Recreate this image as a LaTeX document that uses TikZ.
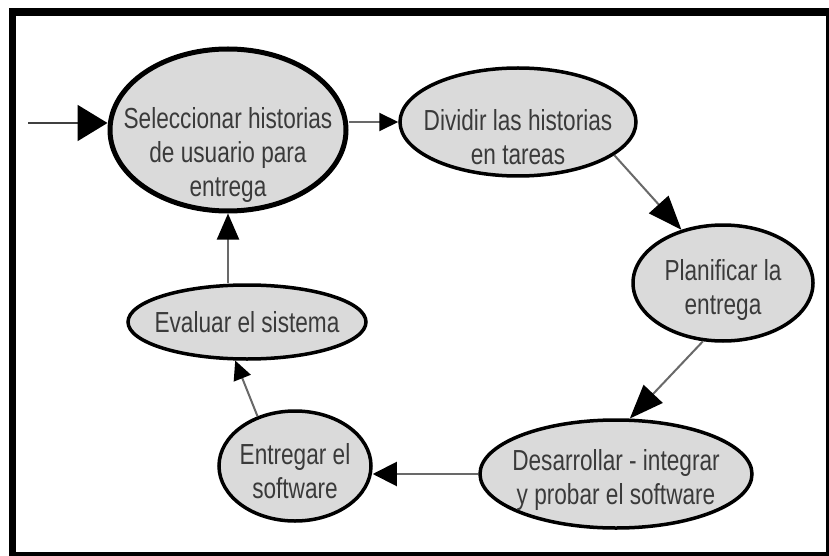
\documentclass[tikz,border=0pt]{standalone}
\usepackage{fontspec}
\setmainfont{Liberation Sans}[FakeStretch=0.78]
\usetikzlibrary{arrows.meta,shapes.geometric}
\definecolor{stagefill}{RGB}{218,218,218}
\definecolor{stagetext}{RGB}{58,58,58}
\definecolor{linkgray}{RGB}{105,105,105}

\begin{document}
\begin{tikzpicture}[x=1pt,y=-1pt,
  stage/.style={ellipse, draw=black, fill=stagefill, line width=3.5pt, inner sep=0pt},
  stagetxt/.style={align=center, text=stagetext, inner sep=0pt,
    font=\fontsize{29}{34}\selectfont},
  link/.style={draw=linkgray, line width=2pt},
  tipbig/.style={-{Triangle[length=34pt,width=26pt,color=black]}},
  tipmid/.style={-{Triangle[length=24pt,width=24pt,color=black]}},
  tipsmall/.style={-{Triangle[length=19pt,width=18pt,color=black]}},
]
\useasboundingbox (0,0) rectangle (829,556);

% outer frame
\fill[black] (9,8) rectangle (829,556);
\fill[white] (16,16) rectangle (826,552);

% stages of the release cycle
\node[stage, line width=5pt, minimum width=236pt, minimum height=162pt] (sel) at (228,130) {};
\node[stagetxt] (seltxt) at (228,155) {Seleccionar historias\\de usuario para\\entrega};

\node[stage, minimum width=236pt, minimum height=108pt] (div) at (518,122) {};
\node[stagetxt] (divtxt) at (518,137) {Dividir las historias\\en tareas};

\node[stage, minimum width=180pt, minimum height=116pt] (plan) at (723,283) {};
\node[stagetxt] (plantxt) at (723,290) {Planificar la\\entrega};

\node[stage, minimum width=272pt, minimum height=108pt] (des) at (616,474) {};
\node[stagetxt] (destxt) at (616,480) {Desarrollar - integrar\\y probar el software};

\node[stage, minimum width=152pt, minimum height=110pt] (ent) at (295,466) {};
\node[stagetxt] (enttxt) at (295,471) {Entregar el\\software};

\node[stage, minimum width=238pt, minimum height=74pt] (eva) at (247,322) {};
\node[stagetxt] (evatxt) at (247,322) {Evaluar el sistema};

% connectors
\coordinate (start) at (28,123);
\draw[link, draw=black!75, -{Triangle[length=30pt,width=36pt,color=black]}] (start) -- (start -| sel.west);
\draw[link, tipsmall] (sel.east |- div) -- (div.west);
\draw[link, tipbig] (div.-19) -- (plan.128);
\draw[link, tipbig] (plan.251) -- (des.76);
\draw[link, tipmid] (des.west) -- (ent.east |- des.west);
\draw[link, tipsmall] (ent.127) -- (eva.253);
\draw[link, -{Triangle[length=26pt,width=22pt,color=black]}] (sel |- eva.north) -- (sel.south);
\end{tikzpicture}
\end{document}
